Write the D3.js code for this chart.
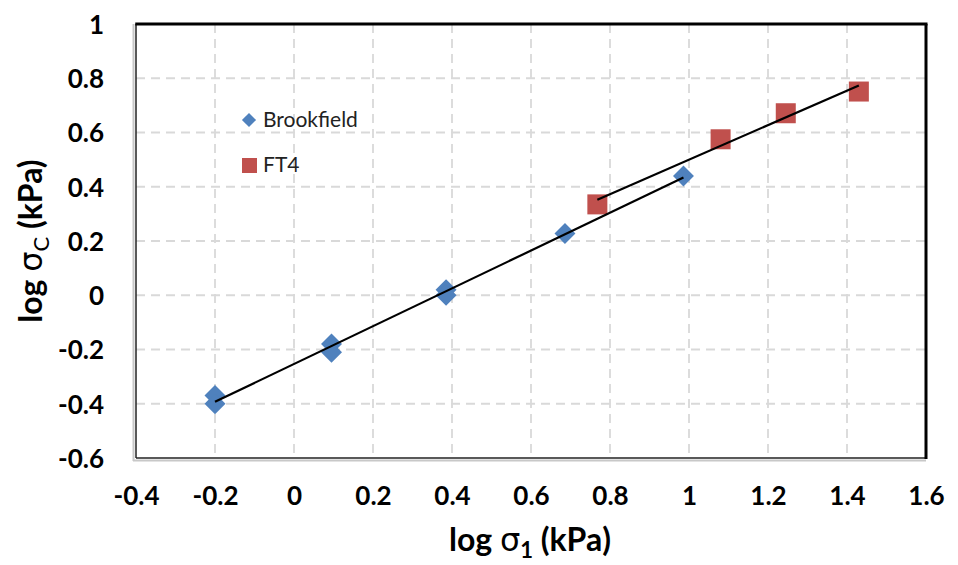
<!DOCTYPE html>
<html>
<head>
<meta charset="utf-8">
<script src="https://cdn.jsdelivr.net/npm/d3@7"></script>
<style>
  html, body { margin: 0; padding: 0; background: #fff; }
  svg { display: block; }
</style>
</head>
<body>
<svg id="chart" width="958" height="565"></svg>
<script>
// ---- data ----
const brookX = [-0.2, -0.2, 0.095, 0.095, 0.385, 0.385, 0.686, 0.986];
const brookY = [-0.37, -0.40, -0.18, -0.21, 0.02, 0.00, 0.228, 0.44];
const ft4X = [0.768, 1.08, 1.245, 1.43];
const ft4Y = [0.335, 0.575, 0.671, 0.751];
const xTicks = [-0.4, -0.2, 0, 0.2, 0.4, 0.6, 0.8, 1, 1.2, 1.4, 1.6];
const yTicks = [-0.6, -0.4, -0.2, 0, 0.2, 0.4, 0.6, 0.8, 1];
const seriesNames = ["Brookfield", "FT4"];

const svg = d3.select("#chart");
const L = 136, R = 926, T = 24, B = 458;
const x = d3.scaleLinear().domain([-0.4, 1.6]).range([L, R]);
const y = d3.scaleLinear().domain([-0.6, 1]).range([B, T]);
const font = "Lato, 'Open Sans', sans-serif";
const blue = "#4F81BD", red = "#C0504D";

// gridlines
svg.append("g").selectAll("line").data(xTicks.slice(1, -1)).join("line")
  .attr("x1", d => x(d)).attr("x2", d => x(d)).attr("y1", T).attr("y2", B)
  .attr("stroke", "#d9d9d9").attr("stroke-width", 1.8).attr("stroke-dasharray", "9,6");
svg.append("g").selectAll("line").data(yTicks.slice(1, -1)).join("line")
  .attr("y1", d => y(d)).attr("y2", d => y(d)).attr("x1", L).attr("x2", R)
  .attr("stroke", "#d9d9d9").attr("stroke-width", 1.8).attr("stroke-dasharray", "9,6");

// frame with shadow
svg.append("line").attr("x1", L - 2.5).attr("x2", L - 2.5).attr("y1", T).attr("y2", B + 3)
  .attr("stroke", "#c8c8c8").attr("stroke-width", 2);
svg.append("line").attr("x1", L - 3).attr("x2", R).attr("y1", B + 2.5).attr("y2", B + 2.5)
  .attr("stroke", "#c8c8c8").attr("stroke-width", 2);
svg.append("line").attr("x1", L).attr("x2", L).attr("y1", T).attr("y2", B)
  .attr("stroke", "#222").attr("stroke-width", 1.5);
svg.append("line").attr("x1", L).attr("x2", R).attr("y1", B).attr("y2", B)
  .attr("stroke", "#222").attr("stroke-width", 1.5);
svg.append("line").attr("x1", L - 0.75).attr("x2", R + 1.5).attr("y1", T).attr("y2", T)
  .attr("stroke", "#000").attr("stroke-width", 3);
svg.append("line").attr("x1", R).attr("x2", R).attr("y1", T).attr("y2", B + 1)
  .attr("stroke", "#000").attr("stroke-width", 3);

// axes labels (via d3 axes, domain & ticks hidden)
const fmt = d => String(+d.toFixed(1));
const xAxis = svg.append("g").attr("transform", `translate(0,${B})`)
  .call(d3.axisBottom(x).tickValues(xTicks).tickFormat(fmt).tickSize(0).tickPadding(29));
xAxis.select(".domain").remove();
xAxis.selectAll("text").attr("font-family", font).attr("font-weight", "bold")
  .attr("font-size", 26).attr("fill", "#000").attr("dy", "0.71em");
const yAxis = svg.append("g").attr("transform", `translate(${L},0)`)
  .call(d3.axisLeft(y).tickValues(yTicks).tickFormat(fmt).tickSize(0).tickPadding(32));
yAxis.select(".domain").remove();
yAxis.selectAll("text").attr("font-family", font).attr("font-weight", "bold")
  .attr("font-size", 26).attr("fill", "#000").attr("dy", "0.36em");

// regression lines
function fit(xs, ys) {
  const n = xs.length, mx = d3.mean(xs), my = d3.mean(ys);
  let sxy = 0, sxx = 0;
  for (let i = 0; i < n; i++) { sxy += (xs[i] - mx) * (ys[i] - my); sxx += (xs[i] - mx) ** 2; }
  const b = sxy / sxx, a = my - b * mx;
  const x0 = d3.min(xs), x1 = d3.max(xs);
  return [[x0, a + b * x0], [x1, a + b * x1]];
}

// markers
const diamond = d3.symbol().type(d3.symbolSquare).size(220);
svg.append("g").selectAll("path").data(brookX.map((d, i) => [d, brookY[i]])).join("path")
  .attr("d", diamond)
  .attr("transform", d => `translate(${x(d[0])},${y(d[1])}) rotate(45)`)
  .attr("fill", blue);
svg.append("g").selectAll("rect").data(ft4X.map((d, i) => [d, ft4Y[i]])).join("rect")
  .attr("x", d => x(d[0]) - 10).attr("y", d => y(d[1]) - 10)
  .attr("width", 20).attr("height", 20).attr("fill", red);

const line = d3.line().x(d => x(d[0])).y(d => y(d[1]));
svg.append("path").attr("d", line(fit(brookX, brookY))).attr("stroke", "#000")
  .attr("stroke-width", 2.2).attr("fill", "none");
svg.append("path").attr("d", line(fit(ft4X, ft4Y))).attr("stroke", "#000")
  .attr("stroke-width", 2.2).attr("fill", "none");

// legend
const lg = svg.append("g");
lg.append("path").attr("d", d3.symbol().type(d3.symbolSquare).size(100))
  .attr("transform", "translate(249,120) rotate(45)").attr("fill", blue);
lg.append("rect").attr("x", 242).attr("y", 158).attr("width", 15).attr("height", 15).attr("fill", red);
lg.selectAll("text").data(seriesNames).join("text")
  .attr("x", 263).attr("y", (d, i) => 127 + i * 45)
  .attr("font-family", font).attr("font-size", 21).attr("fill", "#222").text(d => d);

// axis titles
const xt = svg.append("text").attr("x", 530).attr("y", 551).attr("text-anchor", "middle")
  .attr("font-family", font).attr("font-weight", "bold").attr("font-size", 32).attr("fill", "#000");
xt.append("tspan").text("log ");
xt.append("tspan").attr("font-weight", "normal").attr("font-family", "'DejaVu Sans', sans-serif").text("σ");
xt.append("tspan").attr("font-size", 22).attr("dy", 7).text("1");
xt.append("tspan").attr("dy", -7).text(" (kPa)");

const yt = svg.append("text").attr("transform", "translate(42,241) rotate(-90)")
  .attr("text-anchor", "middle")
  .attr("font-family", font).attr("font-weight", "bold").attr("font-size", 32).attr("fill", "#000");
yt.append("tspan").text("log ");
yt.append("tspan").attr("font-weight", "normal").attr("font-family", "'DejaVu Sans', sans-serif").text("σ");
yt.append("tspan").attr("font-weight", "normal").attr("font-size", 22).attr("dy", 7).text("C");
yt.append("tspan").attr("dy", -7).text(" (kPa)");
</script>
</body>
</html>
